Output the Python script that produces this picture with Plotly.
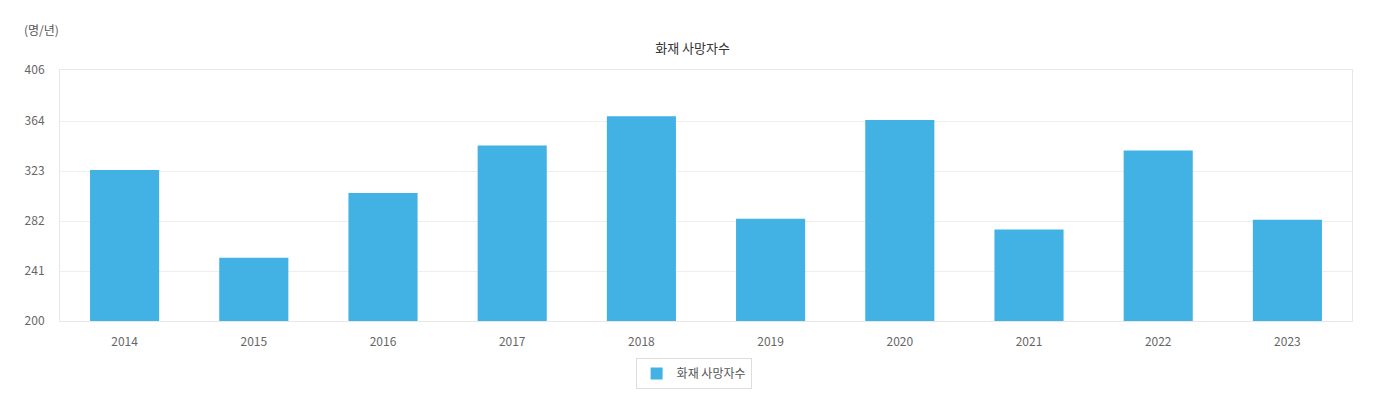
import plotly.graph_objects as go

years = ["2014", "2015", "2016", "2017", "2018", "2019", "2020", "2021", "2022", "2023"]
deaths = [324, 252, 305, 344, 368, 284, 365, 275, 340, 283]
y_ticks = [200, 241, 282, 323, 364, 406]
series_name = "화재 사망자수"

FONT = "Noto Sans CJK KR"

fig = go.Figure()
fig.add_trace(go.Bar(
    x=years, y=deaths, name=series_name,
    marker=dict(color="#42B2E5", line=dict(width=0)),
    hoverinfo="x+y",
))

fig.update_layout(
    width=1376, height=389,
    margin=dict(l=52, r=32, t=62, b=76, autoexpand=False),
    paper_bgcolor="white", plot_bgcolor="white",
    font=dict(family=FONT, size=12, color="#666"),
    bargap=0.465,
    showlegend=True,
    title=dict(text=series_name, x=0.4975, xanchor="center", yref="container", y=0.896,
               yanchor="middle", font=dict(family=FONT, size=13, color="#333")),
    legend=dict(orientation="h", x=0.4904, xanchor="center", yref="container", y=0.100,
                yanchor="top", bordercolor="#dddddd", borderwidth=1, itemwidth=30,
                font=dict(family=FONT, size=12, color="#555")),
    xaxis=dict(showgrid=False, showline=True, linecolor="#e8e8e8", linewidth=1, mirror=True,
               ticks="", ticklabelstandoff=10, automargin=False,
               tickfont=dict(family=FONT, size=12, color="#666")),
    yaxis=dict(range=[200, 406], tickvals=y_ticks, showgrid=True, gridcolor="#eeeeee",
               showline=True, linecolor="#e8e8e8", linewidth=1, mirror=True,
               zeroline=False, ticks="", ticklabelstandoff=12, automargin=False,
               tickfont=dict(family=FONT, size=12, color="#666")),
    annotations=[dict(text="(명/년)", xref="paper", yref="paper", x=-0.0293, y=1.16,
                      xanchor="left", yanchor="middle", showarrow=False,
                      font=dict(family=FONT, size=12, color="#555"))],
)

fig.write_html("out.html")
